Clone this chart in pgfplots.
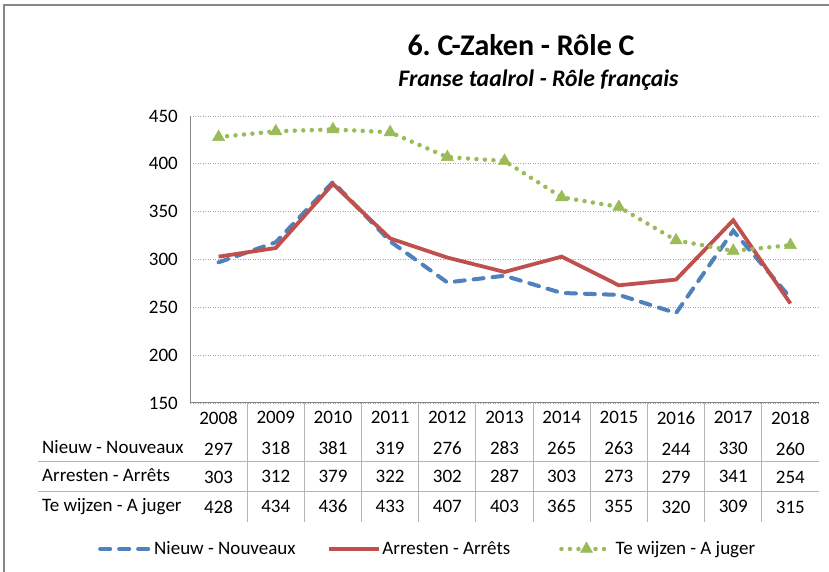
\documentclass[border=0pt]{standalone}
\usepackage{pgfplots}
\pgfplotsset{compat=1.18}
\usepackage{pgfplotstable}
\usepackage{fontspec}
\setmainfont{Carlito}
\frenchspacing
\definecolor{cblue}{HTML}{4F81BD}
\definecolor{cred}{HTML}{C0504D}
\definecolor{cgreen}{HTML}{9BBB59}
\definecolor{cgrid}{HTML}{A6A6A6}
\definecolor{caxis}{HTML}{868686}
\definecolor{ctab}{HTML}{B4B4B4}

\pgfplotstableread{
x year nieuw arresten tewijzen
0 2008 297 303 428
1 2009 318 312 434
2 2010 381 379 436
3 2011 319 322 433
4 2012 276 302 407
5 2013 283 287 403
6 2014 265 303 365
7 2015 263 273 355
8 2016 244 279 320
9 2017 330 341 309
10 2018 260 254 315
}\data

\newcommand\bodyfont{\fontsize{19bp}{23bp}\selectfont}

\begin{document}
\begin{tikzpicture}[x=1bp,y=1bp]
\useasboundingbox (0,0) rectangle (829,572);
\fill[white] (0,0) rectangle (829,572);
\draw[caxis, line width=1.5bp] (4,-10) -- (4,567) -- (840,567);
\node[anchor=base, inner sep=0pt, font=\bfseries\fontsize{30bp}{35bp}\selectfont] at (521,516) {6. C-Zaken - Rôle C};
\node[anchor=base, inner sep=0pt, font=\bfseries\itshape\fontsize{23.7bp}{28bp}\selectfont] at (538.5,485) {Franse taalrol - Rôle français};

\begin{axis}[
  at={(190bp,169bp)}, anchor=south west,
  width=629bp, height=287bp, scale only axis,
  xmin=-0.5, xmax=10.5, ymin=150, ymax=450,
  ytick={150,200,...,450},
  xtick={0,...,10},
  xticklabels={
    {2008\\[3bp]297\\303\\[2bp]428},
    {2009\\[3bp]318\\312\\[2bp]434},
    {2010\\[3bp]381\\379\\[2bp]436},
    {2011\\[3bp]319\\322\\[2bp]433},
    {2012\\[3bp]276\\302\\[2bp]407},
    {2013\\[3bp]283\\287\\[2bp]403},
    {2014\\[3bp]265\\303\\[2bp]365},
    {2015\\[3bp]263\\273\\[2bp]355},
    {2016\\[3bp]244\\279\\[2bp]320},
    {2017\\[3bp]330\\341\\[2bp]309},
    {2018\\[3bp]260\\254\\[2bp]315}},
  axis lines=left,
  axis line style={-, draw=caxis, line width=1bp},
  ymajorgrids,
  grid style={draw=cgrid, line width=0.8bp, dash pattern=on 1bp off 1.5bp},
  major tick length=0pt,
  tick label style={font=\bodyfont, text=black},
  /pgf/number format/assume math mode=true,
  yticklabel style={anchor=east, inner sep=0pt, xshift=-12bp},
  xticklabel style={anchor=north, inner sep=0pt, yshift=-8bp, align=center, font=\fontsize{19bp}{28bp}\selectfont},
  clip=false,
  legend columns=3,
  legend style={at={(axis description cs:-0.1463,-0.5087)}, anchor=west, draw=none, fill=none, inner sep=0pt, font=\bodyfont,
    /tikz/column 2/.style={column sep=29bp},
    /tikz/column 4/.style={column sep=47bp}},
  legend image code/.code={\draw[#1, mark repeat=2, mark phase=2] plot coordinates {(0bp,0bp) (25bp,0bp) (50bp,0bp)};},
]
\addplot[cblue, line width=4bp, dash pattern=on 10bp off 9bp, line cap=round] table[x=x,y=nieuw]{\data};
\addlegendentry{Nieuw - Nouveaux}
\addplot[cred, line width=3.8bp] table[x=x,y=arresten]{\data};
\addlegendentry{Arresten - Arrêts}
\addplot[cgreen, line width=4.5bp, line cap=round, dash pattern=on 0bp off 8.5bp, mark=triangle*, mark size=7bp, mark options={solid, line width=0.5bp}] table[x=x,y=tewijzen]{\data};
\addlegendentry{Te wijzen - A juger}
\end{axis}

\draw[ctab, line width=1bp] (38,110.3) -- (819,110.3);
\draw[ctab, line width=1bp] (38,80.3) -- (819,80.3);
\foreach \k in {1,...,10} {\draw[ctab, line width=1bp] ({190+57.18*\k},169) -- ({190+57.18*\k},50);}
\node[anchor=base west, inner sep=0pt, font=\bodyfont] at (42,118) {Nieuw - Nouveaux};
\node[anchor=base west, inner sep=0pt, font=\bodyfont] at (42,90) {Arresten - Arrêts};
\node[anchor=base west, inner sep=0pt, font=\bodyfont] at (42,60) {Te wijzen - A juger};
\end{tikzpicture}
\end{document}
